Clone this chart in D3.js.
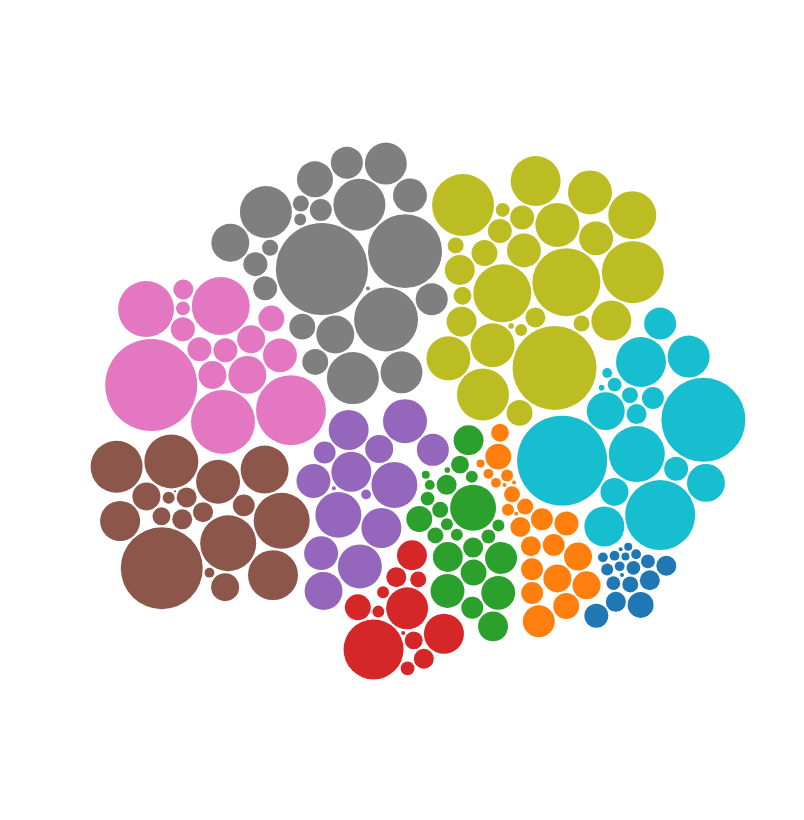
<!DOCTYPE html>
<html>
<head>
<meta charset="utf-8">
<script src="https://cdn.jsdelivr.net/npm/d3@7"></script>
<style>
  html, body { margin: 0; padding: 0; background: #fff; }
  svg { display: block; }
</style>
</head>
<body>
<svg id="chart" width="804" height="820"></svg>
<script>
// ---- data: one value list per cluster (group id = index into category10) ----
const groupIds = [0, 1, 2, 3, 4, 5, 6, 7, 8, 9];
// order in which the clusters sit around the ring, clockwise
const ringOrder = [7, 8, 9, 0, 1, 2, 3, 4, 5, 6];
const values0 = [0.36,0.12,0.12,0.06,0.06,0.25,0.42,0.06,0.25,0.16,0.12,0.09,0.04,0.04,0.01,0.01,0.06,0.25];
const values1 = [0.30,0.36,0.49,0.42,0.25,0.16,0.16,0.20,0.64,0.06,0.09,0.09,0.01,0.01,0.01,0.06,0.25,0.04,0.30,0.49,0.42,0.30,0.49,0.30];
const values2 = [0.64,0.42,0.30,0.12,0.56,0.06,0.04,0.42,1.32,0.02,0.09,0.09,0.20,0.16,0.09,0.25,0.12,0.09,0.16,0.25,0.56,0.72,0.56,0.72];
const values3 = [0.56,1.00,0.25,0.20,0.09,0.01,0.12,2.25,0.16,0.25,0.09,0.42,1.10];
const values4 = [1.21,0.64,1.00,0.90,0.49,0.72,0.06,1.32,0.30,1.21,0.72,1.00,0.01,1.32,1.00];
const values5 = [1.96,1.44,1.21,1.56,4.20,1.69,0.49,0.09,0.20,0.25,0.30,0.25,1.00,1.96,1.82,0.49,0.25,0.06,0.003];
const values6 = [2.56,2.10,0.90,1.96,5.29,3.06,0.25,0.12,0.49,0.36,0.42,0.36,0.72,0.49,0.36];
const values7 = [3.42,5.29,1.69,1.69,0.64,1.69,0.90,0.90,1.10,2.56,1.10,0.81,0.42,0.36,0.72,0.64,0.42,0.36,0.16,0.09,0.30,0.16,0.01];
const values8 = [2.89,0.56,0.56,0.20,1.00,0.36,0.25,0.12,0.72,0.16,0.16,1.21,1.69,4.41,1.21,1.21,0.36,0.09,2.40,0.02,2.10,2.40,1.56,1.21,0.72,0.42,0.42,1.44];
const values9 = [4.41,1.56,3.06,5.06,1.10,0.64,0.49,1.00,0.16,0.12,0.06,0.25,0.30,0.36,0.90,0.02,0.90,1.96];
const groupValues = [values0, values1, values2, values3, values4, values5, values6, values7, values8, values9];

// ---- layout ----
const width = 804, height = 820;
const centerX = 418, centerY = 411;
const ringRadius = 236;
const color = d3.scaleOrdinal(groupIds, d3.schemeCategory10);
const radius = d3.scaleSqrt().domain([0, 1]).range([0, 20]);

// cluster seeds placed around a ring; arc width by cluster diameter (d3.pie)
const clusters = ringOrder.map(g => ({group: g, sum: d3.sum(groupValues[g])}));
const arcs = d3.pie().sort(null).value(d => Math.sqrt(d.sum))
  .startAngle(-0.78).endAngle(-0.78 + 2 * Math.PI)(clusters);

const nodes = [];
for (const a of arcs) {
  const g = a.data.group;
  const mid = (a.startAngle + a.endAngle) / 2;
  const cx = Math.sin(mid) * ringRadius * 1.08, cy = -Math.cos(mid) * ringRadius * 0.95;
  const members = groupValues[g]
    .map(v => ({data: {group: g, value: v}, r: radius(v)}))
    .sort((p, q) => q.r - p.r);
  const tmp = members.map(m => ({r: m.r + 1.5}));
  d3.packSiblings(tmp);
  members.forEach((m, i) => { m.x = cx + tmp[i].x; m.y = cy + tmp[i].y; nodes.push(m); });
}

function centroid(ns) {
  let x = 0, y = 0, z = 0;
  for (const d of ns) {
    const w = d.r * d.r;
    x += d.x * w; y += d.y * w; z += w;
  }
  return {x: x / z, y: y / z};
}

function forceCluster() {
  const strength = 0.2;
  let ns;
  function force(alpha) {
    const centroids = d3.rollup(ns, centroid, d => d.data.group);
    const l = alpha * strength;
    for (const d of ns) {
      const c = centroids.get(d.data.group);
      d.vx -= (d.x - c.x) * l;
      d.vy -= (d.y - c.y) * l;
    }
  }
  force.initialize = _ => ns = _;
  return force;
}

function forceCollide() {
  const alpha = 0.8;
  const padding1 = 2;
  const padding2 = 6;
  let ns, maxRadius;
  function force() {
    const quadtree = d3.quadtree(ns, d => d.x, d => d.y);
    for (const d of ns) {
      const r = d.r + maxRadius;
      const nx1 = d.x - r, ny1 = d.y - r, nx2 = d.x + r, ny2 = d.y + r;
      quadtree.visit((q, x1, y1, x2, y2) => {
        if (!q.length) do {
          if (q.data !== d) {
            const o = q.data;
            const rr = d.r + o.r + (d.data.group === o.data.group ? padding1 : padding2);
            let x = d.x - o.x, y = d.y - o.y, l = Math.hypot(x, y);
            if (l < rr && l > 0) {
              l = (l - rr) / l * alpha;
              const wd = (o.r * o.r + 1) / (d.r * d.r + o.r * o.r + 2);
              x *= l; y *= l;
              d.x -= x * wd; d.y -= y * wd;
              o.x += x * (1 - wd); o.y += y * (1 - wd);
            }
          }
        } while (q = q.next);
        return x1 > nx2 || x2 < nx1 || y1 > ny2 || y2 < ny1;
      });
    }
  }
  force.initialize = _ => maxRadius = d3.max(ns = _, d => d.r) + Math.max(padding1, padding2);
  return force;
}

const simulation = d3.forceSimulation(nodes)
  .force("x", d3.forceX(0).strength(0.0135))
  .force("y", d3.forceY(0).strength(0.019))
  .force("cluster", forceCluster())
  .force("collide", forceCollide())
  .stop();
for (let i = 0; i < 500; i++) simulation.tick();

// center the finished layout
const x0 = d3.min(nodes, d => d.x - d.r), x1 = d3.max(nodes, d => d.x + d.r);
const y0 = d3.min(nodes, d => d.y - d.r), y1 = d3.max(nodes, d => d.y + d.r);
const dx = centerX - (x0 + x1) / 2, dy = centerY - (y0 + y1) / 2;

const svg = d3.select("#chart");
svg.append("g")
  .attr("transform", `translate(${dx},${dy})`)
  .selectAll("circle")
  .data(nodes)
  .join("circle")
    .attr("cx", d => d.x)
    .attr("cy", d => d.y)
    .attr("r", d => d.r)
    .attr("fill", d => color(d.data.group));
</script>
</body>
</html>
